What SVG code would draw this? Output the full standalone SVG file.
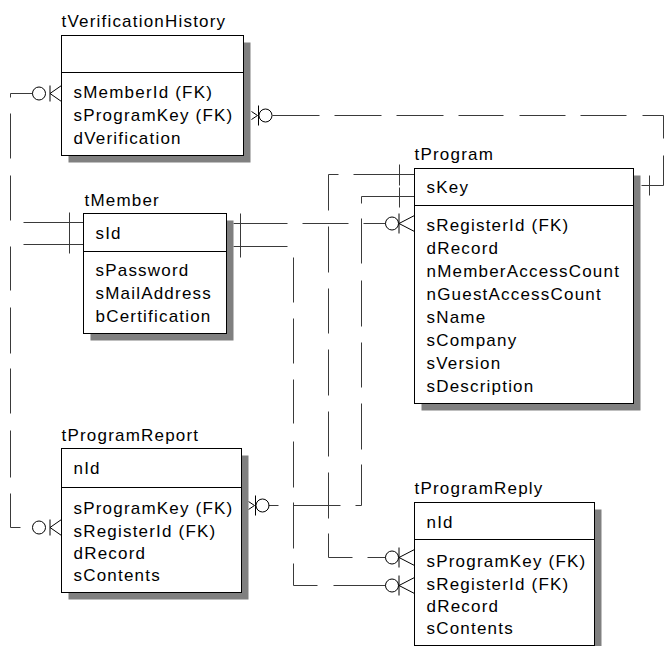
<svg xmlns="http://www.w3.org/2000/svg" xmlns:xlink="http://www.w3.org/1999/xlink" width="664" height="646" viewBox="0 0 664 646">
<style>
.sh{fill:#808080;stroke:none}
.box{fill:#fff;stroke:#000;stroke-width:1}
.div{stroke:#000;stroke-width:1}
.t{font-family:"Liberation Sans",Arial,sans-serif;font-size:17px;letter-spacing:1.2px;fill:#000}
.c{stroke:#3a3a3a;stroke-width:1;fill:none}
.sym{stroke:#000;stroke-width:1;fill:none}
</style>
<defs>
<g id="crowR" class="sym"><circle cx="-22.5" cy="0" r="6.5"/><path d="M-15.5 -10V10M-15.5 0L0 -8M-15.5 0L0 8"/></g>
<g id="crowS" class="sym"><circle cx="-22.5" cy="0" r="6.5"/><path d="M-11.5 -8V8M-11.5 0L0 -8M-11.5 0L0 8"/></g>
<g id="zeroOne" class="sym"><path d="M0 -4L6 0L0 4M7 -10V10"/><circle cx="14" cy="0" r="6.5"/></g>
</defs>
<rect width="664" height="646" fill="#fff"/>
<g transform="translate(0.5 0.5)">
<g id="connectors">
<path class="c" d="M10 93H32M10 93V97M10 113V158M10 175V220M10 246V290M10 307V353M10 368V413M10 430V477M10 493V527H20M23 222H83M23 244H83M69 212V253"/>
<path class="c" d="M233 223H287M302 223H348M363 223H385M233 246H287M240 213V257"/>
<path class="c" d="M293 257V302M293 318V363M293 379V423M293 441V487M293 502V548M293 563V585H317M333 585H385"/>
<path class="c" d="M328 174H338M353 174H414M328 174V210M328 226V272M328 288V333M328 349V395M328 411V456M328 472V518M328 533V557H352M367 557H385"/>
<path class="c" d="M361 196H414M361 196V203M361 218V263M361 280V326M361 342V387M361 403V449M361 464V505H355M340 505H293M278 505H268"/>
<path class="c" d="M399 164V185M399 187V207"/>
<path class="c" d="M272 115H319M334 115H381M396 115H443M458 115H503M519 115H565M580 115H626M642 115H663V138M663 155V185H641M649 175V195"/>
<use xlink:href="#crowR" x="414" y="223"/>
<use xlink:href="#crowR" x="414" y="557"/>
<use xlink:href="#crowR" x="414" y="585"/>
<use xlink:href="#crowS" x="61" y="93"/>
<use xlink:href="#crowS" x="61" y="527"/>
<use xlink:href="#zeroOne" x="251" y="115"/>
<use xlink:href="#zeroOne" x="248" y="505"/>
</g>
<g id="tVerificationHistory">
<rect class="sh" x="68" y="42" width="182" height="120"/>
<rect class="box" x="61" y="35" width="182" height="120"/>
<line class="div" x1="61" y1="72" x2="243" y2="72"/>
<text class="t" x="61" y="26">tVerificationHistory</text>
<text class="t" x="73" y="97">sMemberId (FK)</text>
<text class="t" x="73" y="120">sProgramKey (FK)</text>
<text class="t" x="73" y="143">dVerification</text>
</g>
<g id="tMember">
<rect class="sh" x="90" y="220" width="143" height="120"/>
<rect class="box" x="83" y="213" width="143" height="120"/>
<line class="div" x1="83" y1="251" x2="226" y2="251"/>
<text class="t" x="84" y="205">tMember</text>
<text class="t" x="95" y="238">sId</text>
<text class="t" x="95" y="275">sPassword</text>
<text class="t" x="95" y="298">sMailAddress</text>
<text class="t" x="95" y="321">bCertification</text>
</g>
<g id="tProgram">
<rect class="sh" x="421" y="175" width="219" height="235"/>
<rect class="box" x="414" y="168" width="219" height="235"/>
<line class="div" x1="414" y1="205" x2="633" y2="205"/>
<text class="t" x="414" y="159">tProgram</text>
<text class="t" x="426" y="192">sKey</text>
<text class="t" x="426" y="230">sRegisterId (FK)</text>
<text class="t" x="426" y="253">dRecord</text>
<text class="t" x="426" y="276">nMemberAccessCount</text>
<text class="t" x="426" y="299">nGuestAccessCount</text>
<text class="t" x="426" y="322">sName</text>
<text class="t" x="426" y="345">sCompany</text>
<text class="t" x="426" y="368">sVersion</text>
<text class="t" x="426" y="391">sDescription</text>
</g>
<g id="tProgramReport">
<rect class="sh" x="68" y="455" width="180" height="144"/>
<rect class="box" x="61" y="448" width="180" height="144"/>
<line class="div" x1="61" y1="487" x2="241" y2="487"/>
<text class="t" x="61" y="440">tProgramReport</text>
<text class="t" x="73" y="473">nId</text>
<text class="t" x="73" y="513">sProgramKey (FK)</text>
<text class="t" x="73" y="536">sRegisterId (FK)</text>
<text class="t" x="73" y="558">dRecord</text>
<text class="t" x="73" y="580">sContents</text>
</g>
<g id="tProgramReply">
<rect class="sh" x="421" y="509" width="180" height="143"/>
<rect class="box" x="414" y="502" width="180" height="143"/>
<line class="div" x1="414" y1="539" x2="594" y2="539"/>
<text class="t" x="414" y="493">tProgramReply</text>
<text class="t" x="426" y="527">nId</text>
<text class="t" x="426" y="566">sProgramKey (FK)</text>
<text class="t" x="426" y="589">sRegisterId (FK)</text>
<text class="t" x="426" y="611">dRecord</text>
<text class="t" x="426" y="633">sContents</text>
</g>
</g>
</svg>
